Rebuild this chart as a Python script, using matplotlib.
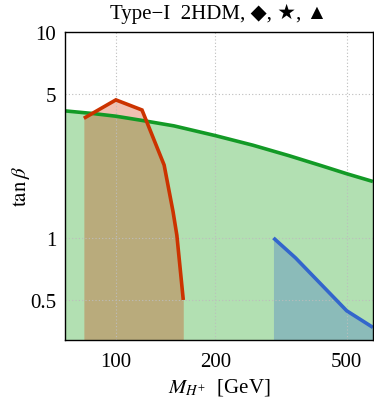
import matplotlib
matplotlib.use("Agg")
import matplotlib.pyplot as plt
import numpy as np

plt.rcParams['mathtext.fontset'] = 'stix'
plt.rcParams['font.family'] = ['Liberation Serif', 'DejaVu Serif', 'DejaVu Sans']

# Green (upper bound) curve
green_M = [70, 85, 100, 120, 150, 200, 260, 334, 420, 500, 600]
green_tb = [4.14, 4.02, 3.90, 3.72, 3.50, 3.14, 2.82, 2.51, 2.24, 2.05, 1.88]

# Red curve
red_M = [80, 100, 120, 140, 149, 153, 160]
red_tb = [3.81, 4.68, 4.18, 2.26, 1.34, 1.03, 0.50]

# Blue curve
blue_M = [300, 350, 500, 600]
blue_tb = [1.0, 0.80, 0.443, 0.368]

xticks = [100, 200, 500]
xticklabels = ['100', '200', '500']
yticks = [0.5, 1, 5, 10]
yticklabels = ['0.5', '1', '5', '10']

xlim = (70, 600)
ylim = (0.32, 10)

fig = plt.figure(figsize=(3.74, 4.02), dpi=100)
ax = fig.add_axes([0.173, 0.152, 0.824, 0.766])
ax.set_xscale('log')
ax.set_yscale('log')

green = '#139a26'
red = '#cc3300'
blue = '#3366cc'

ax.fill_between(green_M, ylim[0], green_tb, color='#009900', alpha=0.3, lw=0, zorder=1)
ax.fill_between(red_M, ylim[0], red_tb, color=red, alpha=0.3, lw=0, zorder=2)
ax.fill_between(blue_M, ylim[0], blue_tb, color=blue, alpha=0.3, lw=0, zorder=2)

ax.plot(green_M, green_tb, color=green, lw=2.6, zorder=4, solid_capstyle='butt')
ax.plot(red_M, red_tb, color=red, lw=2.6, zorder=5, solid_capstyle='butt', solid_joinstyle='miter')
ax.plot(blue_M, blue_tb, color=blue, lw=2.6, zorder=5, solid_capstyle='butt')

ax.set_xlim(*xlim)
ax.set_ylim(*ylim)
ax.set_xticks(xticks)
ax.set_xticklabels(xticklabels)
ax.set_yticks(yticks)
ax.set_yticklabels(yticklabels)
ax.minorticks_off()
ax.tick_params(length=0, labelsize=15)
ax.tick_params(axis='x', pad=9)
ax.tick_params(axis='y', pad=6)

for v in xticks:
    ax.axvline(v, color='#bdbdbd', lw=0.8, ls=(0, (1, 2)), zorder=3)
for v in yticks:
    ax.axhline(v, color='#bdbdbd', lw=0.8, ls=(0, (1, 2)), zorder=3)

for s in ax.spines.values():
    s.set_linewidth(1.0)
    s.set_zorder(6)

ax.set_xlabel(r'$M_{H^{+}}$  [GeV]', fontsize=15, labelpad=3)
ax.set_ylabel(r'$\tan\beta$', fontsize=15, labelpad=-1)
ax.set_title('Type\u2212I  2HDM, \u25c6, \u2605, \u25b2', fontsize=15, pad=10)

fig.savefig('out.png', dpi=100)
